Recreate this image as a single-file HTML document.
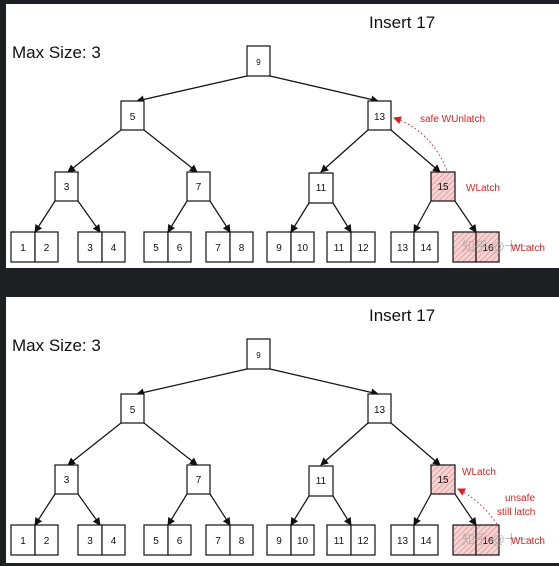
<!DOCTYPE html>
<html><head><meta charset="utf-8"><style>
html,body{margin:0;padding:0;background:#1e1f22;}
svg{display:block;}
text{font-family:"Liberation Sans","Noto Sans CJK SC",sans-serif;}
</style></head><body>
<svg width="559" height="566" viewBox="0 0 559 566" xmlns="http://www.w3.org/2000/svg">
<defs>
<pattern id="h" width="4" height="4" patternUnits="userSpaceOnUse" patternTransform="rotate(45)">
<rect width="4" height="4" fill="#f6d3d3"/><line x1="0" y1="0" x2="0" y2="4" stroke="#e07070" stroke-width="1"/>
</pattern>
<marker id="a" markerWidth="8" markerHeight="8" refX="7" refY="4" orient="auto" markerUnits="userSpaceOnUse">
<path d="M0,0 L8,4 L0,8 z" fill="#111"/></marker>
<marker id="r" markerWidth="8" markerHeight="8" refX="7" refY="4" orient="auto" markerUnits="userSpaceOnUse">
<path d="M0,0 L8,4 L0,8 z" fill="#d22"/></marker>
<g id="tree" stroke="#111" stroke-width="1.2" fill="#fff">
<g stroke="#111" fill="none" marker-end="url(#a)">
<line x1="247" y1="76" x2="137" y2="101"/>
<line x1="270" y1="76" x2="378" y2="101"/>
<line x1="121" y1="130" x2="68" y2="172"/>
<line x1="144" y1="130" x2="197" y2="172"/>
<line x1="368" y1="130" x2="321" y2="172"/>
<line x1="391" y1="130" x2="440" y2="172"/>
<line x1="55" y1="201" x2="35" y2="232"/>
<line x1="78" y1="201" x2="100" y2="232"/>
<line x1="187" y1="201" x2="168" y2="232"/>
<line x1="210" y1="201" x2="230" y2="232"/>
<line x1="309" y1="203" x2="291" y2="232"/>
<line x1="333" y1="203" x2="351" y2="232"/>
<line x1="431" y1="201" x2="414" y2="232"/>
<line x1="455" y1="201" x2="476" y2="232"/>
</g>
<rect x="247" y="46" width="23" height="30"/>
<rect x="121" y="101" width="23" height="29"/>
<rect x="368" y="101" width="23" height="29"/>
<rect x="55" y="172" width="23" height="29"/>
<rect x="187" y="172" width="23" height="29"/>
<rect x="309" y="173" width="24" height="30"/>
<rect x="431" y="172" width="24" height="29" fill="url(#h)"/>
<rect x="11" y="232" width="24" height="30"/><rect x="35" y="232" width="23" height="30"/>
<rect x="78" y="232" width="24" height="30"/><rect x="102" y="232" width="23" height="30"/>
<rect x="144" y="232" width="24" height="30"/><rect x="168" y="232" width="23" height="30"/>
<rect x="206" y="232" width="24" height="30"/><rect x="230" y="232" width="23" height="30"/>
<rect x="267" y="232" width="24" height="30"/><rect x="291" y="232" width="23" height="30"/>
<rect x="327" y="232" width="24" height="30"/><rect x="351" y="232" width="24" height="30"/>
<rect x="391" y="232" width="23" height="30"/><rect x="414" y="232" width="24" height="30"/>
<rect x="453" y="232" width="23" height="30" fill="url(#h)"/><rect x="476" y="232" width="23" height="30" fill="url(#h)"/>
<g stroke="none" fill="#111" font-size="10" text-anchor="middle">
<text x="258.5" y="65" font-size="8">9</text>
<text x="132.5" y="120">5</text><text x="379.5" y="120">13</text>
<text x="66.5" y="190">3</text><text x="198.5" y="190">7</text>
<text x="321" y="191">11</text><text x="443" y="190">15</text>
<text x="23" y="251">1</text><text x="46.5" y="251">2</text>
<text x="90" y="251">3</text><text x="113.5" y="251">4</text>
<text x="156" y="251">5</text><text x="179.5" y="251">6</text>
<text x="218" y="251">7</text><text x="241.5" y="251">8</text>
<text x="279" y="251">9</text><text x="302.5" y="251">10</text>
<text x="339" y="251">11</text><text x="363" y="251">12</text>
<text x="402.5" y="251">13</text><text x="426" y="251">14</text>
<text x="488" y="251">16</text>
</g>
<text x="369" y="28" font-size="17" fill="#111" stroke="none">Insert 17</text>
<text x="12" y="58" font-size="17" fill="#111" stroke="none">Max Size: 3</text>
<text x="462" y="251" font-size="13" fill="#aaa" stroke="none" opacity="0.8">知乎 @十一</text>
<text x="511" y="251" font-size="10" fill="#d22" stroke="none">WLatch</text>
</g>
</defs>
<rect x="6" y="4" width="553" height="264" fill="#fff"/>
<rect x="6" y="297" width="553" height="266" fill="#fff"/>
<use href="#tree"/>
<g fill="#d22" font-size="10">
<text x="420" y="122">safe WUnlatch</text>
<text x="466" y="191">WLatch</text>
</g>
<path d="M447,170 Q430,130 394,118" stroke="#d22" stroke-width="1" stroke-dasharray="1.5,2.5" fill="none" marker-end="url(#r)"/>
<g transform="translate(0,293)"><use href="#tree"/></g>
<g fill="#d22" font-size="10">
<text x="462" y="475">WLatch</text>
<text x="505" y="501">unsafe</text>
<text x="497" y="515">still latch</text>
</g>
<path d="M497,524 Q480,500 458,489" stroke="#d22" stroke-width="1" stroke-dasharray="1.5,2.5" fill="none" marker-end="url(#r)"/>
</svg>
</body></html>
